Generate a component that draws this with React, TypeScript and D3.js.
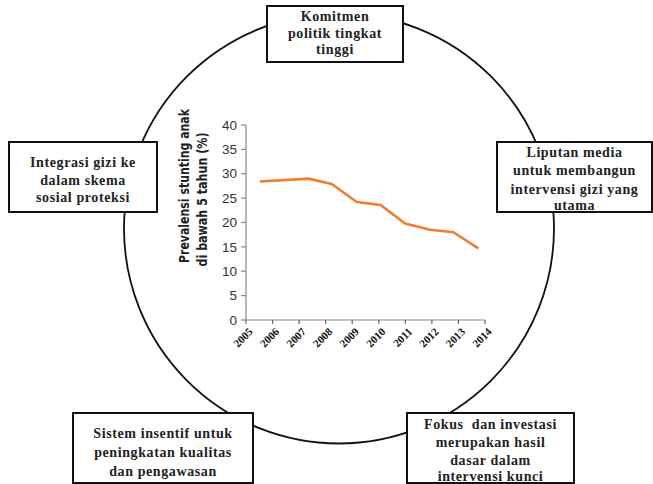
import React from "react";
import * as d3 from "d3";

const W = 653;
const H = 484;

// chart data
const yearTicks = [2005, 2006, 2007, 2008, 2009, 2010, 2011, 2012, 2013, 2014];
const surveyTime = [2005.53, 2007.35, 2008.23, 2009.17, 2010.07, 2010.99, 2011.93, 2012.81, 2013.75];
const prevalence = [28.4, 29.0, 27.9, 24.2, 23.6, 19.8, 18.5, 18.0, 14.7];
const yTicks = [0, 5, 10, 15, 20, 25, 30, 35, 40];
const yTitle = ["Prevalensi stunting anak", "di bawah 5 tahun (%)"];

// surrounding boxes
const boxTop = ["Komitmen", "politik tingkat", "tinggi"];
const boxLeft = ["Integrasi gizi ke", "dalam skema", "sosial proteksi"];
const boxRight = ["Liputan media", "untuk membangun", "intervensi gizi yang", "utama"];
const boxBottomLeft = ["Sistem insentif untuk", "peningkatan kualitas", "dan pengawasan"];
const boxBottomRight = ["Fokus  dan investasi", "merupakan hasil", "dasar dalam", "intervensi kunci"];

const serif = "'Liberation Serif', 'DejaVu Serif', serif";

function Box({ x, y, w, h, lines, baselines }: { x: number; y: number; w: number; h: number; lines: string[]; baselines: number[] }) {
  return (
    <g>
      <rect x={x} y={y} width={w} height={h} fill="#fff" stroke="#111" strokeWidth={2} />
      {lines.map((t, i) => (
        <text
          key={i}
          x={x + w / 2}
          y={baselines[i]}
          textAnchor="middle"
          fontFamily={serif}
          fontWeight="bold"
          fontSize={14}
          letterSpacing={0.6}
          fill="#222"
          style={{ whiteSpace: "pre" }}
        >
          {t}
        </text>
      ))}
    </g>
  );
}

export default function App() {
  const x = d3.scaleLinear().domain([2005, 2014]).range([246, 485]);
  const y = d3.scaleLinear().domain([0, 40]).range([320, 125]);
  const pts: [number, number][] = surveyTime.map((t, i) => [x(t), y(prevalence[i])]);
  const line = d3.line<[number, number]>().x((d) => d[0]).y((d) => d[1]);

  return (
    <svg width={W} height={H} style={{ position: "absolute", left: 0, top: 0, background: "#fff" }}>
      <rect x={0} y={0} width={W} height={H} fill="#fff" />
      <circle cx={339} cy={228.5} r={215} fill="none" stroke="#111" strokeWidth={1.8} />

      {/* axes */}
      <line x1={x(2005)} x2={x(2005)} y1={y(40)} y2={y(0)} stroke="#888" strokeWidth={1.2} />
      {yTicks.map((v) => (
        <g key={v}>
          <line x1={x(2005) - 5} x2={x(2005)} y1={y(v)} y2={y(v)} stroke="#888" strokeWidth={1.2} />
          <text
            x={x(2005) - 9}
            y={y(v)}
            dy="0.35em"
            textAnchor="end"
            fontFamily="'Liberation Sans', Arial, sans-serif"
            fontSize={13.5}
            fill="#333"
          >
            {v}
          </text>
        </g>
      ))}
      <line x1={x(2005)} x2={x(2014)} y1={y(0)} y2={y(0)} stroke="#888" strokeWidth={1.2} />
      {yearTicks.map((t) => (
        <g key={t}>
          <line x1={x(t)} x2={x(t)} y1={y(0)} y2={y(0) + 4} stroke="#666" strokeWidth={1.2} />
          <text
            transform={`translate(${x(t) + 2},${y(0) + 7}) rotate(-45)`}
            textAnchor="end"
            dy="0.7em"
            fontFamily={serif}
            fontWeight="bold"
            fontSize={11}
            fill="#111"
          >
            {t}
          </text>
        </g>
      ))}

      {/* y title */}
      <text
        transform="translate(188.5,186) rotate(-90)"
        textAnchor="middle"
        fontFamily="'Liberation Sans Narrow', 'DejaVu Sans Condensed', sans-serif"
        fontWeight="bold"
        fontSize={14}
        fill="#222"
        textLength={154}
        lengthAdjust="spacingAndGlyphs"
      >
        {yTitle[0]}
      </text>
      <text
        transform="translate(207,199.5) rotate(-90)"
        textAnchor="middle"
        fontFamily="'Liberation Sans Narrow', 'DejaVu Sans Condensed', sans-serif"
        fontWeight="bold"
        fontSize={14}
        fill="#222"
        textLength={134}
        lengthAdjust="spacingAndGlyphs"
      >
        {yTitle[1]}
      </text>

      <path d={line(pts) || ""} fill="none" stroke="#F47A30" strokeWidth={2.6} strokeLinejoin="round" />

      <Box x={267} y={6} w={136} h={56} lines={boxTop} baselines={[21, 37.5, 53.5]} />
      <Box x={9} y={142} w={148} h={70} lines={boxLeft} baselines={[167, 184.5, 202]} />
      <Box x={497} y={142} w={155} h={70} lines={boxRight} baselines={[156.5, 175, 193.5, 210]} />
      <Box x={73} y={413} w={180} h={70} lines={boxBottomLeft} baselines={[437.5, 456.5, 475.5]} />
      <Box x={407} y={413} w={167} h={70} lines={boxBottomRight} baselines={[428.5, 446.5, 464.5, 480.5]} />
    </svg>
  );
}
